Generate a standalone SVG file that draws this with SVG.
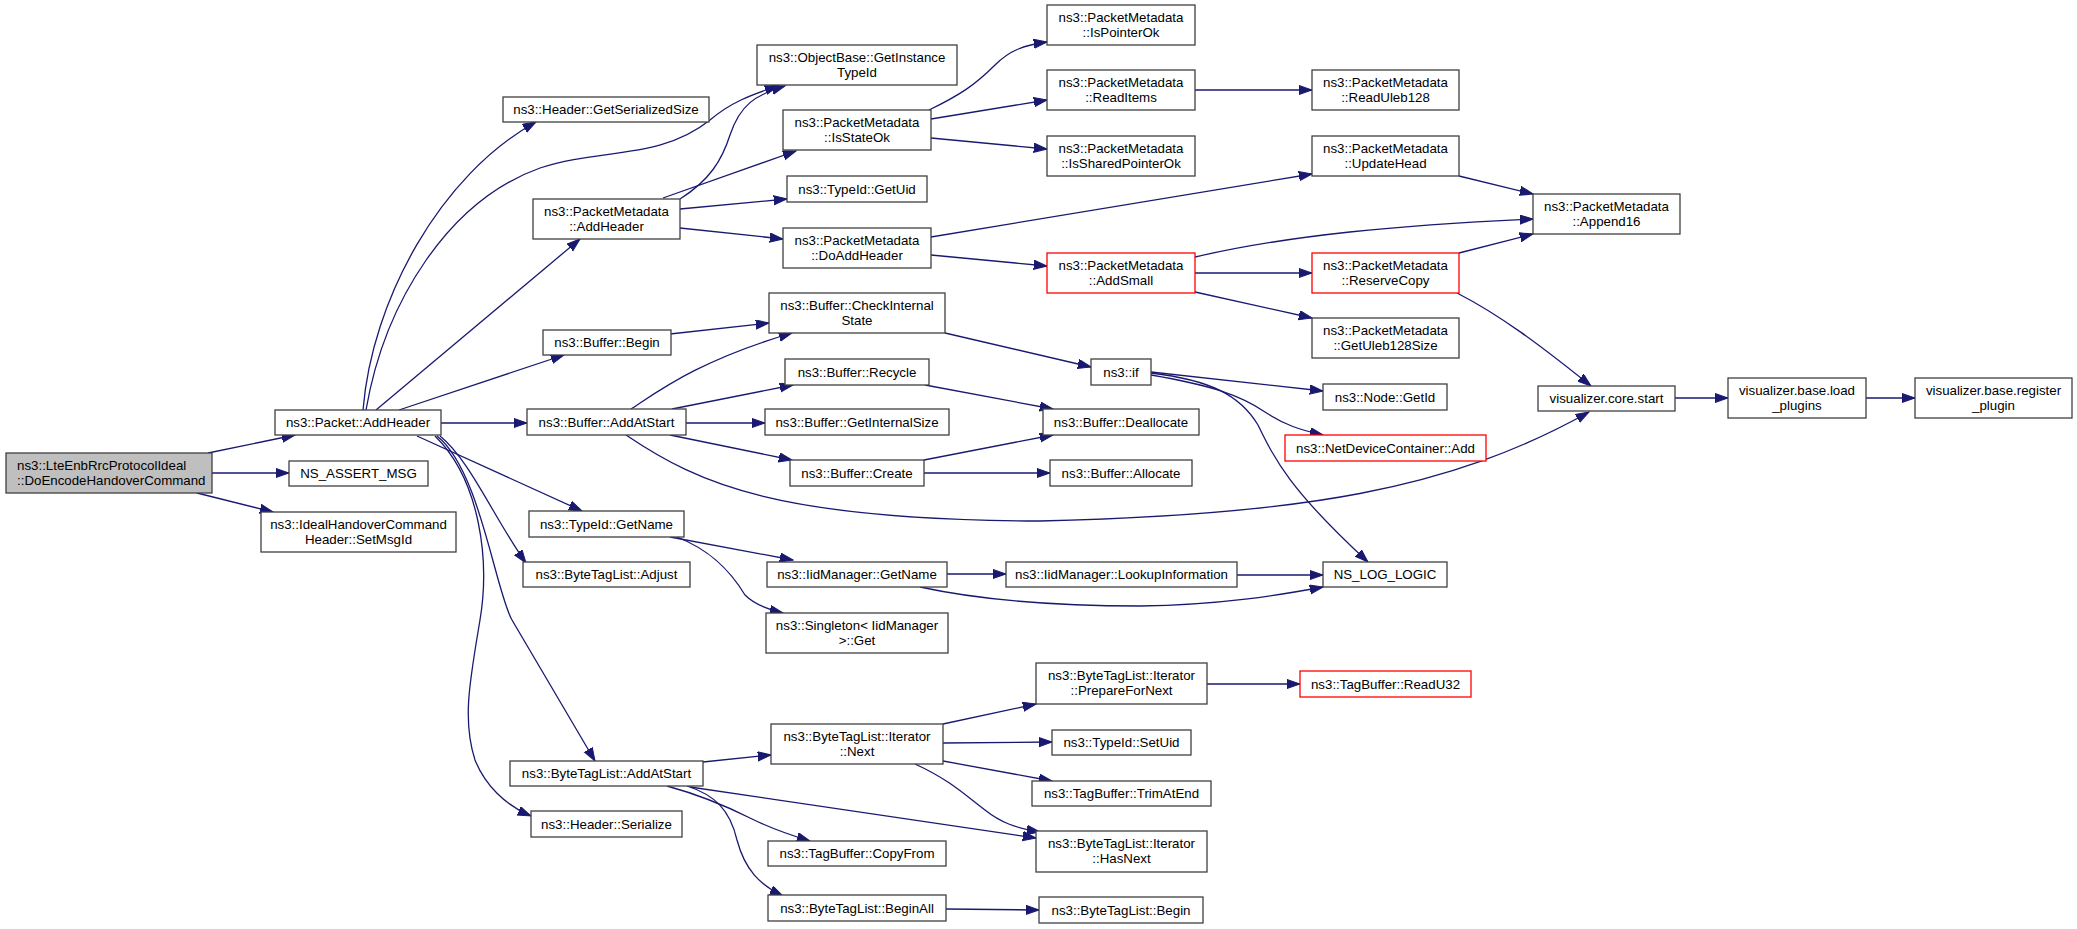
<svg xmlns="http://www.w3.org/2000/svg" width="2077" height="929" viewBox="0 0 2077 929">
<style>
.node rect{fill:#ffffff;stroke:#404040;stroke-width:1.3}
.node.root rect{fill:#bfbfbf}
.node.red rect{stroke:#ff0000}
.node text{font-family:"Liberation Sans",Arial,sans-serif;font-size:13.3px;fill:#000000;text-anchor:middle}
.node.root text{text-anchor:start}
.edges path{fill:none;stroke:#191970;stroke-width:1.3;marker-end:url(#arr)}
</style>
<defs>
<marker id="arr" markerUnits="userSpaceOnUse" markerWidth="15" markerHeight="11" refX="13.2" refY="4.8" orient="auto">
<path d="M0,0.2 L13.2,4.8 L0,9.4 z" fill="#191970" stroke="#191970" stroke-width="1"/>
</marker>
</defs>
<rect width="2077" height="929" fill="#ffffff"/>
<g class="edges">
<path d="M208,453 L295,435"/>
<path d="M212,473 L289,473"/>
<path d="M197,493 L273,512"/>
<path d="M366,410 C385,300 450,200 540,168 C600,148 660,160 710,120 C730,103 750,95 778,86"/>
<path d="M363,410 C372,300 440,175 536,122"/>
<path d="M376,410 L580,239"/>
<path d="M399,410 L564,355"/>
<path d="M441,423 L527,423"/>
<path d="M417,436 L582,511"/>
<path d="M440,436 C470,460 495,520 526,563"/>
<path d="M437,436 C480,470 495,590 512,620 L595,761"/>
<path d="M435,436 C480,480 490,560 480,620 C470,680 462,720 475,760 C485,785 505,805 531,816"/>
<path d="M680,199 C710,180 722,160 730,135 C740,105 755,95 785,86"/>
<path d="M663,198 L796,151"/>
<path d="M680,209 L787,199"/>
<path d="M680,228 L783,239"/>
<path d="M929,110 C960,95 975,85 995,65 C1010,50 1025,45 1047,42"/>
<path d="M931,119 L1047,100"/>
<path d="M931,138 L1047,149"/>
<path d="M1195,90 L1312,90"/>
<path d="M931,237 L1312,174"/>
<path d="M931,255 L1047,266"/>
<path d="M1459,176 L1533,194"/>
<path d="M1195,257 C1290,235 1400,225 1533,219"/>
<path d="M1195,273 L1312,273"/>
<path d="M1195,292 L1312,318"/>
<path d="M1459,253 L1533,234"/>
<path d="M1457,293 C1500,315 1540,345 1591,386"/>
<path d="M670,334 L769,323"/>
<path d="M631,409 C660,390 700,360 792,333"/>
<path d="M672,409 L793,385"/>
<path d="M686,423 L765,423"/>
<path d="M670,435 L792,460"/>
<path d="M626,435 C700,485 780,520 1040,521 C1300,515 1450,490 1589,412"/>
<path d="M945,333 L1091,367"/>
<path d="M925,385 L1053,409"/>
<path d="M924,460 L1053,435"/>
<path d="M924,473 L1050,473"/>
<path d="M1151,372 L1323,391"/>
<path d="M1151,375 C1210,385 1240,395 1265,412 C1285,425 1300,430 1323,435"/>
<path d="M1151,373 C1210,380 1240,395 1258,425 C1275,460 1290,490 1368,562"/>
<path d="M1675,398 L1728,398"/>
<path d="M1866,398 L1915,398"/>
<path d="M670,537 L793,560"/>
<path d="M677,537 C710,550 730,570 745,595 C755,605 770,610 783,613"/>
<path d="M947,574 L1006,574"/>
<path d="M920,587 C980,600 1060,606 1140,606 C1220,605 1280,595 1323,587"/>
<path d="M1237,575 L1323,575"/>
<path d="M703,762 L771,755"/>
<path d="M690,787 L1036,838"/>
<path d="M667,786 C700,795 730,808 750,818 C770,828 790,835 810,841"/>
<path d="M687,786 C715,795 730,810 737,840 C745,870 760,885 783,896"/>
<path d="M943,724 L1036,704"/>
<path d="M943,743 L1052,742"/>
<path d="M943,761 L1052,781"/>
<path d="M915,764 C950,780 965,795 985,810 C1000,822 1015,828 1040,832"/>
<path d="M1207,684 L1300,684"/>
<path d="M946,909 L1039,910"/>
</g>
<g id="n0" class="node root"><rect x="6" y="453" width="206" height="40"/><text x="17" y="470">ns3::LteEnbRrcProtocolIdeal</text><text x="17" y="484.5">::DoEncodeHandoverCommand</text></g>
<g id="n1" class="node"><rect x="275" y="410" width="166" height="25"/><text x="358" y="427">ns3::Packet::AddHeader</text></g>
<g id="n2" class="node"><rect x="289" y="461" width="139" height="25"/><text x="358.5" y="478">NS_ASSERT_MSG</text></g>
<g id="n3" class="node"><rect x="261" y="512" width="195" height="40"/><text x="358.5" y="529">ns3::IdealHandoverCommand</text><text x="358.5" y="543.5">Header::SetMsgId</text></g>
<g id="n4" class="node"><rect x="757" y="45" width="200" height="40"/><text x="857" y="62">ns3::ObjectBase::GetInstance</text><text x="857" y="76.5">TypeId</text></g>
<g id="n5" class="node"><rect x="503" y="97" width="206" height="25"/><text x="606" y="114">ns3::Header::GetSerializedSize</text></g>
<g id="n6" class="node"><rect x="533" y="199" width="147" height="40"/><text x="606.5" y="216">ns3::PacketMetadata</text><text x="606.5" y="230.5">::AddHeader</text></g>
<g id="n7" class="node"><rect x="783" y="110" width="148" height="40"/><text x="857" y="127">ns3::PacketMetadata</text><text x="857" y="141.5">::IsStateOk</text></g>
<g id="n8" class="node"><rect x="787" y="176" width="140" height="26"/><text x="857" y="193.5">ns3::TypeId::GetUid</text></g>
<g id="n9" class="node"><rect x="783" y="228" width="148" height="40"/><text x="857" y="245">ns3::PacketMetadata</text><text x="857" y="259.5">::DoAddHeader</text></g>
<g id="n10" class="node"><rect x="769" y="293" width="176" height="40"/><text x="857" y="310">ns3::Buffer::CheckInternal</text><text x="857" y="324.5">State</text></g>
<g id="n11" class="node"><rect x="1047" y="5" width="148" height="40"/><text x="1121" y="22">ns3::PacketMetadata</text><text x="1121" y="36.5">::IsPointerOk</text></g>
<g id="n12" class="node"><rect x="1047" y="70" width="148" height="40"/><text x="1121" y="87">ns3::PacketMetadata</text><text x="1121" y="101.5">::ReadItems</text></g>
<g id="n13" class="node"><rect x="1047" y="136" width="148" height="40"/><text x="1121" y="153">ns3::PacketMetadata</text><text x="1121" y="167.5">::IsSharedPointerOk</text></g>
<g id="n14" class="node"><rect x="1312" y="70" width="147" height="40"/><text x="1385.5" y="87">ns3::PacketMetadata</text><text x="1385.5" y="101.5">::ReadUleb128</text></g>
<g id="n15" class="node"><rect x="1312" y="136" width="147" height="40"/><text x="1385.5" y="153">ns3::PacketMetadata</text><text x="1385.5" y="167.5">::UpdateHead</text></g>
<g id="n16" class="node red"><rect x="1047" y="253" width="148" height="40"/><text x="1121" y="270">ns3::PacketMetadata</text><text x="1121" y="284.5">::AddSmall</text></g>
<g id="n17" class="node red"><rect x="1312" y="253" width="147" height="40"/><text x="1385.5" y="270">ns3::PacketMetadata</text><text x="1385.5" y="284.5">::ReserveCopy</text></g>
<g id="n18" class="node"><rect x="1533" y="194" width="147" height="40"/><text x="1606.5" y="211">ns3::PacketMetadata</text><text x="1606.5" y="225.5">::Append16</text></g>
<g id="n19" class="node"><rect x="1312" y="318" width="147" height="40"/><text x="1385.5" y="335">ns3::PacketMetadata</text><text x="1385.5" y="349.5">::GetUleb128Size</text></g>
<g id="n20" class="node"><rect x="1091" y="359" width="60" height="26"/><text x="1121" y="376.5">ns3::if</text></g>
<g id="n21" class="node"><rect x="1323" y="384" width="124" height="26"/><text x="1385" y="401.5">ns3::Node::GetId</text></g>
<g id="n22" class="node red"><rect x="1285" y="435" width="201" height="26"/><text x="1385.5" y="452.5">ns3::NetDeviceContainer::Add</text></g>
<g id="n23" class="node"><rect x="1043" y="409" width="156" height="26"/><text x="1121" y="426.5">ns3::Buffer::Deallocate</text></g>
<g id="n24" class="node"><rect x="1050" y="460" width="142" height="26"/><text x="1121" y="477.5">ns3::Buffer::Allocate</text></g>
<g id="n25" class="node"><rect x="1323" y="562" width="124" height="25"/><text x="1385" y="579">NS_LOG_LOGIC</text></g>
<g id="n26" class="node"><rect x="1006" y="562" width="231" height="25"/><text x="1121.5" y="579">ns3::IidManager::LookupInformation</text></g>
<g id="n27" class="node"><rect x="1538" y="386" width="137" height="25"/><text x="1606.5" y="403">visualizer.core.start</text></g>
<g id="n28" class="node"><rect x="1728" y="378" width="138" height="40"/><text x="1797" y="395">visualizer.base.load</text><text x="1797" y="409.5">_plugins</text></g>
<g id="n29" class="node"><rect x="1915" y="378" width="157" height="40"/><text x="1993.5" y="395">visualizer.base.register</text><text x="1993.5" y="409.5">_plugin</text></g>
<g id="n30" class="node"><rect x="543" y="330" width="128" height="25"/><text x="607" y="347">ns3::Buffer::Begin</text></g>
<g id="n31" class="node"><rect x="785" y="359" width="144" height="26"/><text x="857" y="376.5">ns3::Buffer::Recycle</text></g>
<g id="n32" class="node"><rect x="527" y="409" width="159" height="26"/><text x="606.5" y="426.5">ns3::Buffer::AddAtStart</text></g>
<g id="n33" class="node"><rect x="765" y="409" width="184" height="26"/><text x="857" y="426.5">ns3::Buffer::GetInternalSize</text></g>
<g id="n34" class="node"><rect x="790" y="460" width="134" height="26"/><text x="857" y="477.5">ns3::Buffer::Create</text></g>
<g id="n35" class="node"><rect x="529" y="511" width="155" height="26"/><text x="606.5" y="528.5">ns3::TypeId::GetName</text></g>
<g id="n36" class="node"><rect x="767" y="562" width="180" height="25"/><text x="857" y="579">ns3::IidManager::GetName</text></g>
<g id="n37" class="node"><rect x="523" y="562" width="167" height="25"/><text x="606.5" y="579">ns3::ByteTagList::Adjust</text></g>
<g id="n38" class="node"><rect x="766" y="613" width="182" height="40"/><text x="857" y="630">ns3::Singleton&lt; IidManager</text><text x="857" y="644.5">&gt;::Get</text></g>
<g id="n39" class="node"><rect x="510" y="761" width="193" height="25"/><text x="606.5" y="778">ns3::ByteTagList::AddAtStart</text></g>
<g id="n40" class="node"><rect x="531" y="811" width="151" height="26"/><text x="606.5" y="828.5">ns3::Header::Serialize</text></g>
<g id="n41" class="node"><rect x="771" y="724" width="172" height="40"/><text x="857" y="741">ns3::ByteTagList::Iterator</text><text x="857" y="755.5">::Next</text></g>
<g id="n42" class="node"><rect x="768" y="841" width="178" height="25"/><text x="857" y="858">ns3::TagBuffer::CopyFrom</text></g>
<g id="n43" class="node"><rect x="768" y="895" width="178" height="26"/><text x="857" y="912.5">ns3::ByteTagList::BeginAll</text></g>
<g id="n44" class="node"><rect x="1036" y="663" width="171" height="41"/><text x="1121.5" y="680">ns3::ByteTagList::Iterator</text><text x="1121.5" y="694.5">::PrepareForNext</text></g>
<g id="n45" class="node red"><rect x="1300" y="671" width="171" height="26"/><text x="1385.5" y="688.5">ns3::TagBuffer::ReadU32</text></g>
<g id="n46" class="node"><rect x="1052" y="730" width="139" height="25"/><text x="1121.5" y="747">ns3::TypeId::SetUid</text></g>
<g id="n47" class="node"><rect x="1032" y="781" width="179" height="25"/><text x="1121.5" y="798">ns3::TagBuffer::TrimAtEnd</text></g>
<g id="n48" class="node"><rect x="1036" y="831" width="171" height="41"/><text x="1121.5" y="848">ns3::ByteTagList::Iterator</text><text x="1121.5" y="862.5">::HasNext</text></g>
<g id="n49" class="node"><rect x="1039" y="897" width="164" height="26"/><text x="1121" y="914.5">ns3::ByteTagList::Begin</text></g>
</svg>
